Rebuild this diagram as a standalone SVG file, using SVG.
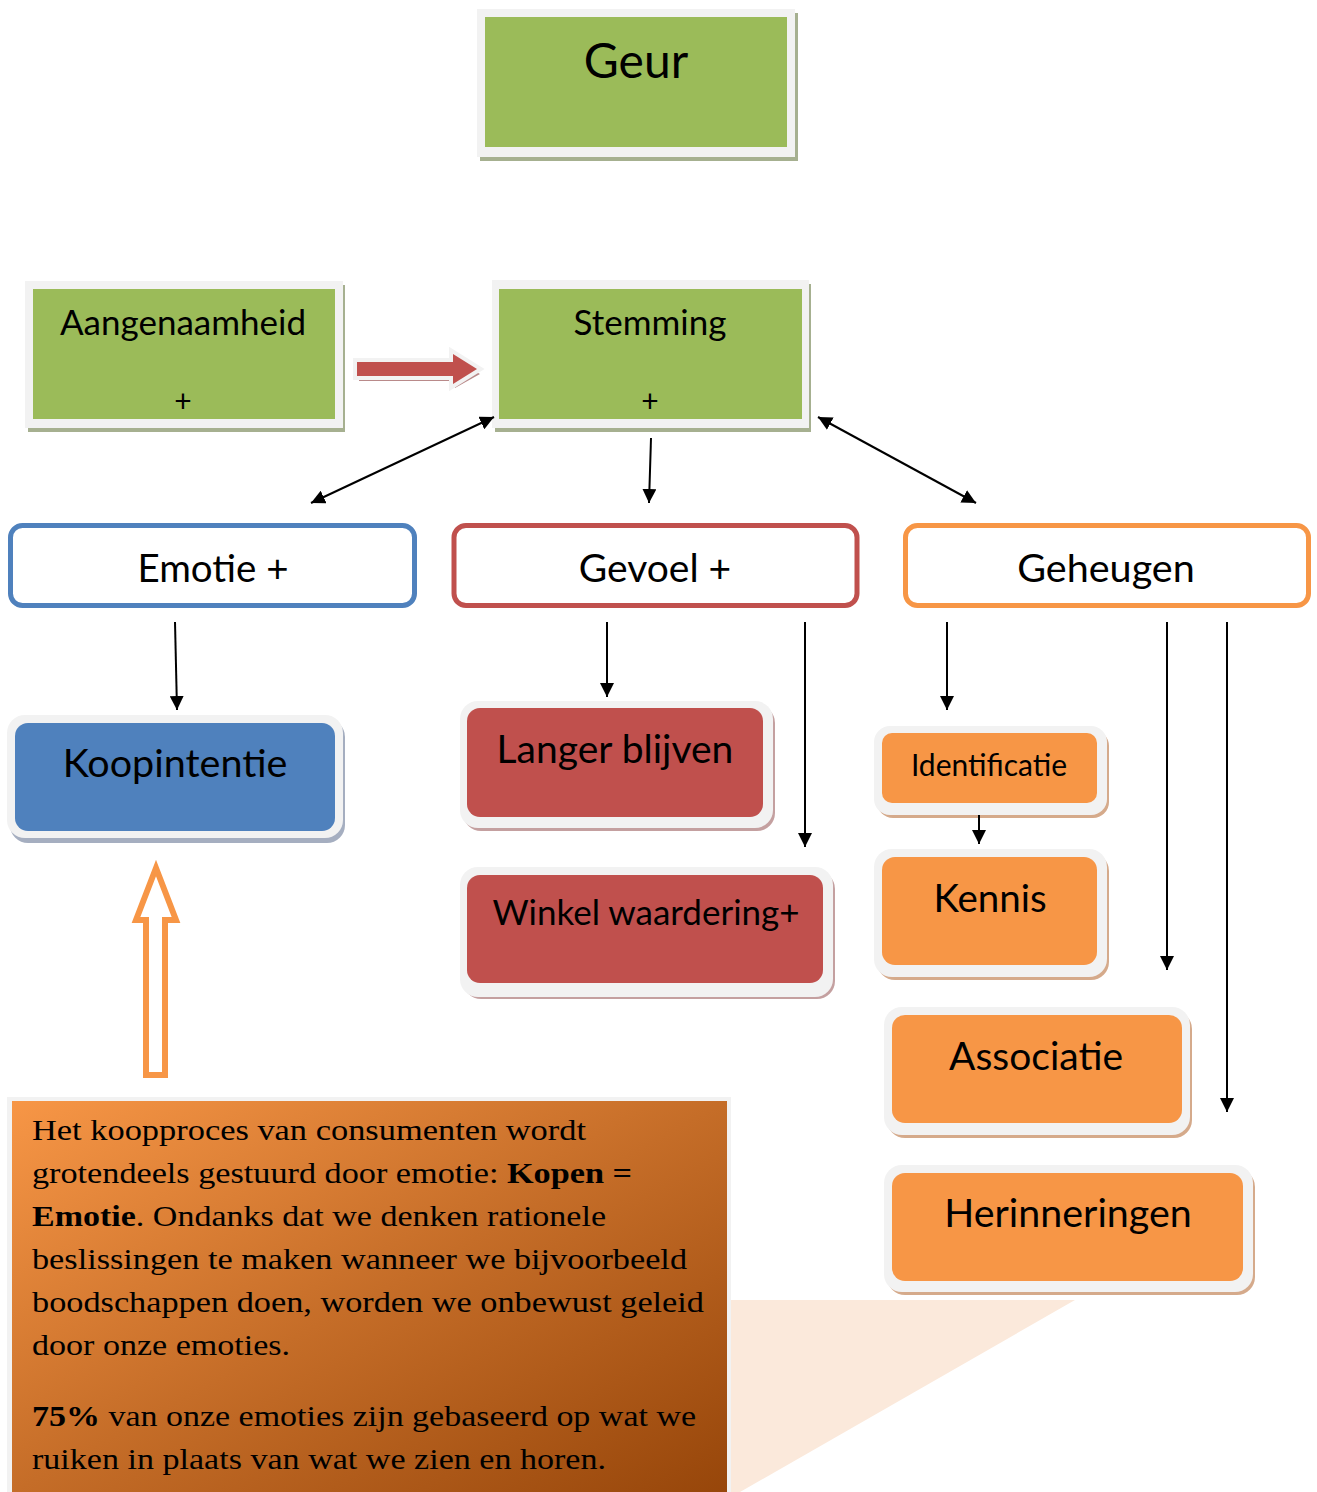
<svg xmlns="http://www.w3.org/2000/svg" width="1317" height="1492" viewBox="0 0 1317 1492">
<style>
.lbl{font-family:Lato,"Open Sans",sans-serif;fill:#000;text-anchor:middle}
.frame{fill:#f2f2f2}
.green{fill:#9bbb59}
.blue{fill:#4f81bd}
.red{fill:#c0504d}
.orange{fill:#f79646}
.conn line{stroke:#000;stroke-width:2}
.para{font-family:"Liberation Serif",serif;font-size:30px;fill:#000}
</style>
<defs>
<marker id="ah" markerUnits="userSpaceOnUse" markerWidth="16" markerHeight="14" refX="14" refY="7" orient="auto-start-reverse">
<path d="M0,0 L14,7 L0,14 Z" fill="#000"/>
</marker>
<linearGradient id="grad" x1="0" y1="0" x2="1" y2="1">
<stop offset="0" stop-color="#f79646"/>
<stop offset="0.5" stop-color="#c56d28"/>
<stop offset="1" stop-color="#97460a"/>
</linearGradient>
</defs>
<rect width="1317" height="1492" fill="#fff"/>

<polygon points="730,1300 1075,1300 740,1492 730,1492" fill="#fbe9db"/>

<g id="geur">
<rect x="480" y="13" width="318" height="148" fill="#a6b090"/>
<rect class="frame" x="477" y="9" width="318" height="148"/>
<rect class="green" x="485" y="17" width="302" height="130"/>
<text class="lbl" x="636" y="78" font-size="48">Geur</text>
</g>

<g id="aangenaamheid">
<rect x="28" y="285" width="317" height="147" fill="#a6b090"/>
<rect class="frame" x="25" y="281" width="318" height="147"/>
<rect class="green" x="33" y="289" width="302" height="130"/>
<text class="lbl" x="183" y="335" font-size="35">Aangenaamheid</text>
<text class="lbl" x="183" y="412" font-size="30">+</text>
</g>

<g id="stemming">
<rect x="495" y="284" width="316" height="148" fill="#a6b090"/>
<rect class="frame" x="492" y="280" width="317" height="148"/>
<rect class="green" x="499" y="289" width="303" height="130"/>
<text class="lbl" x="650" y="335" font-size="35">Stemming</text>
<text class="lbl" x="650" y="412" font-size="30">+</text>
</g>

<g id="red-arrow">
<path d="M359,367 L455,367 L455,360 L480,374 L455,388 L455,381 L359,381 Z" fill="#b98a8a"/>
<path d="M357,362 L453,362 L453,354 L477,369 L453,384 L453,376 L357,376 Z" fill="#c0504d" stroke="#f2f2f2" stroke-width="8" stroke-linejoin="miter" stroke-miterlimit="10" paint-order="stroke"/>
</g>

<g id="emotie">
<rect x="10.5" y="525.5" width="404" height="80" rx="12" fill="#fff" stroke="#4f81bd" stroke-width="5"/>
<text class="lbl" x="213" y="582" font-size="38.5">Emotie +</text>
</g>

<g id="gevoel">
<rect x="454" y="525.5" width="403" height="80" rx="12" fill="#fff" stroke="#c0504d" stroke-width="5"/>
<text class="lbl" x="655" y="582" font-size="39">Gevoel +</text>
</g>

<g id="geheugen">
<rect x="905.5" y="525.5" width="403" height="80" rx="12" fill="#fff" stroke="#f79646" stroke-width="5"/>
<text class="lbl" x="1106" y="582" font-size="39.5">Geheugen</text>
</g>

<g id="koopintentie">
<rect x="10" y="719" width="335" height="124" rx="18" fill="#a5aec0"/>
<rect class="frame" x="7" y="715" width="336" height="123" rx="18"/>
<rect class="blue" x="15" y="723" width="320" height="108" rx="13"/>
<text class="lbl" x="175" y="777" font-size="39.5">Koopintentie</text>
</g>

<g id="langer-blijven">
<rect x="463" y="705" width="312" height="126" rx="18" fill="#c4a0a0"/>
<rect class="frame" x="460" y="701" width="313" height="127" rx="18"/>
<rect class="red" x="467" y="708" width="296" height="109" rx="13"/>
<text class="lbl" x="615" y="763" font-size="39">Langer blijven</text>
</g>

<g id="winkel-waardering">
<rect x="463" y="871" width="372" height="128" rx="18" fill="#c4a0a0"/>
<rect class="frame" x="460" y="867" width="373" height="130" rx="18"/>
<rect class="red" x="467" y="875" width="356" height="108" rx="13"/>
<text class="lbl" x="646" y="925" font-size="35">Winkel waardering+</text>
</g>

<g id="identificatie">
<rect x="877" y="730" width="232" height="88" rx="16" fill="#d5aa8b"/>
<rect class="frame" x="874" y="726" width="233" height="89" rx="16"/>
<rect class="orange" x="882" y="733" width="215" height="70" rx="10"/>
<text class="lbl" x="989" y="776" font-size="30">Identificatie</text>
</g>

<g id="kennis">
<rect x="877" y="853" width="232" height="127" rx="18" fill="#d5aa8b"/>
<rect class="frame" x="874" y="849" width="233" height="128" rx="18"/>
<rect class="orange" x="882" y="857" width="215" height="108" rx="13"/>
<text class="lbl" x="990" y="912" font-size="38.5">Kennis</text>
</g>

<g id="associatie">
<rect x="887" y="1011" width="305" height="127" rx="18" fill="#d5aa8b"/>
<rect class="frame" x="884" y="1007" width="306" height="128" rx="18"/>
<rect class="orange" x="892" y="1015" width="290" height="108" rx="13"/>
<text class="lbl" x="1036" y="1070" font-size="39">Associatie</text>
</g>

<g id="herinneringen">
<rect x="887" y="1169" width="368" height="126" rx="18" fill="#d5aa8b"/>
<rect class="frame" x="884" y="1165" width="369" height="127" rx="18"/>
<rect class="orange" x="892" y="1173" width="351" height="108" rx="13"/>
<text class="lbl" x="1068" y="1227" font-size="39.4">Herinneringen</text>
</g>

<g id="up-arrow">
<polygon points="156,868 176,920 165,920 165,1075 146,1075 146,920 136,920" fill="#fff" stroke="#f79646" stroke-width="6" stroke-linejoin="miter"/>
</g>

<g id="textbox">
<rect class="frame" x="7" y="1097" width="724" height="400"/>
<rect x="12" y="1101" width="715" height="391" fill="url(#grad)"/>
<text class="para" x="32" y="1140" textLength="554" lengthAdjust="spacingAndGlyphs">Het koopproces van consumenten wordt</text>
<text class="para" x="32" y="1183" textLength="600" lengthAdjust="spacingAndGlyphs">grotendeels gestuurd door emotie: <tspan font-weight="bold">Kopen =</tspan></text>
<text class="para" x="32" y="1226" textLength="574" lengthAdjust="spacingAndGlyphs"><tspan font-weight="bold">Emotie</tspan>. Ondanks dat we denken rationele</text>
<text class="para" x="32" y="1269" textLength="655" lengthAdjust="spacingAndGlyphs">beslissingen te maken wanneer we bijvoorbeeld</text>
<text class="para" x="32" y="1312" textLength="672" lengthAdjust="spacingAndGlyphs">boodschappen doen, worden we onbewust geleid</text>
<text class="para" x="32" y="1355" textLength="258" lengthAdjust="spacingAndGlyphs">door onze emoties.</text>
<text class="para" x="32" y="1426" textLength="664" lengthAdjust="spacingAndGlyphs"><tspan font-weight="bold">75%</tspan> van onze emoties zijn gebaseerd op wat we</text>
<text class="para" x="32" y="1469" textLength="574" lengthAdjust="spacingAndGlyphs">ruiken in plaats van wat we zien en horen.</text>
</g>

<g id="connectors" class="conn">
<line x1="311" y1="503" x2="494" y2="417" marker-start="url(#ah)" marker-end="url(#ah)"/>
<line x1="651" y1="438" x2="649" y2="503" marker-end="url(#ah)"/>
<line x1="818" y1="417" x2="976" y2="503" marker-start="url(#ah)" marker-end="url(#ah)"/>
<line x1="175" y1="622" x2="177" y2="710" marker-end="url(#ah)"/>
<line x1="607" y1="622" x2="607" y2="697" marker-end="url(#ah)"/>
<line x1="805" y1="622" x2="805" y2="847" marker-end="url(#ah)"/>
<line x1="947" y1="622" x2="947" y2="710" marker-end="url(#ah)"/>
<line x1="1167" y1="622" x2="1167" y2="970" marker-end="url(#ah)"/>
<line x1="1227" y1="622" x2="1227" y2="1112" marker-end="url(#ah)"/>
<line x1="979" y1="815" x2="979" y2="844" marker-end="url(#ah)"/>
</g>
</svg>
